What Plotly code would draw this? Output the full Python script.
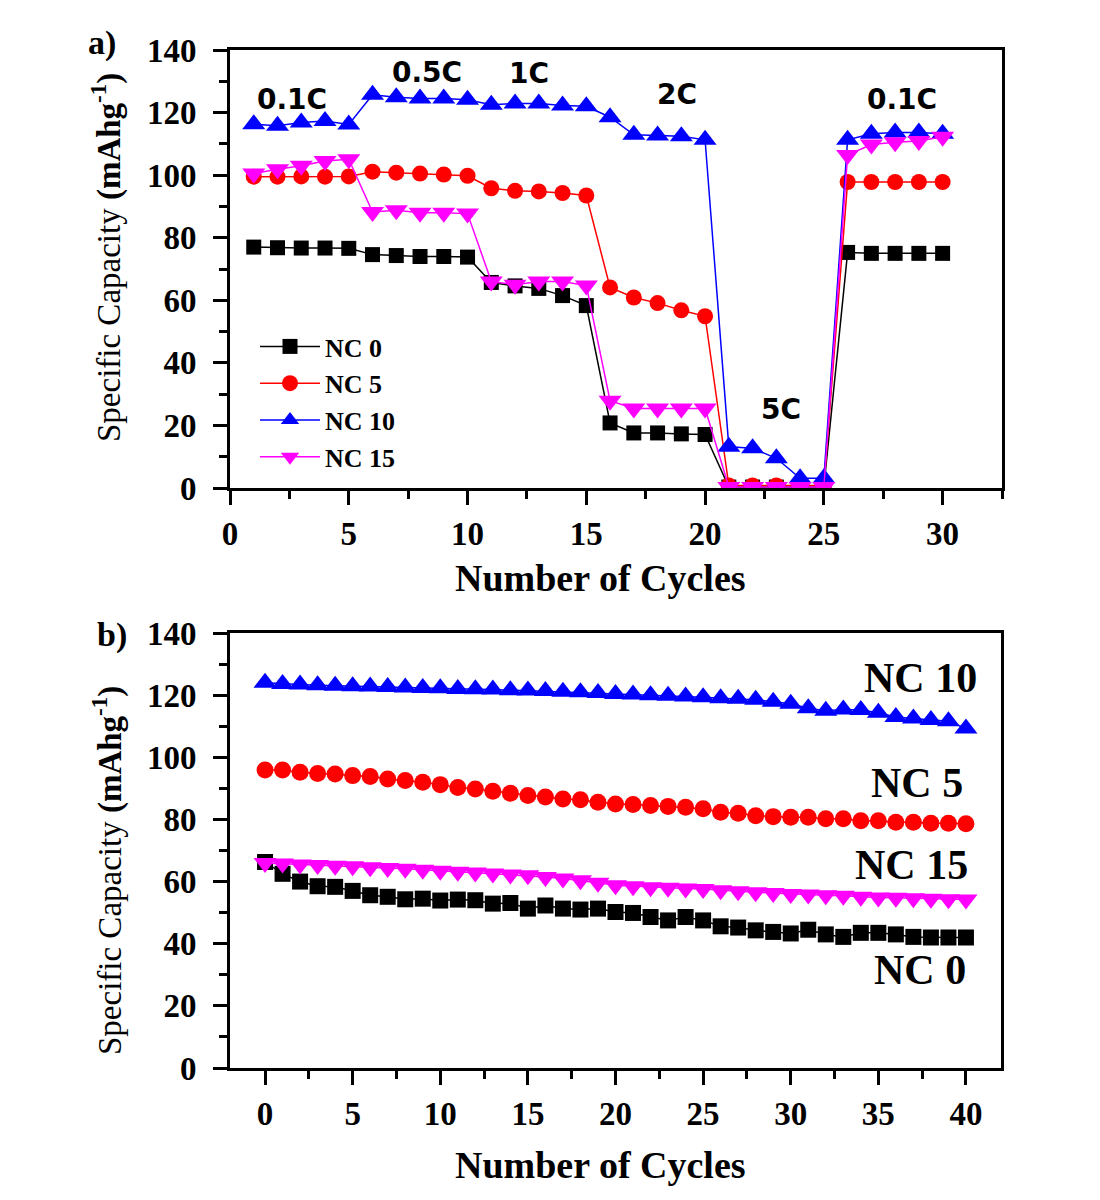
import plotly.graph_objects as go

# ---------------- data: panel a (rate capability) ----------------
cycles_a = list(range(1, 31))
nc0_a = [77.0, 76.8, 76.7, 76.7, 76.6, 74.6, 74.3, 74.0, 74.0, 73.8,
         65.7, 64.6, 63.8, 61.5, 58.3, 20.8, 17.6, 17.6, 17.3, 17.1,
         0.3, 0.3, 0.3, 0.3, 0.3, 75.3, 75.0, 75.0, 75.0, 75.0]
nc5_a = [99.5, 99.5, 99.6, 99.5, 99.6, 101.1, 100.8, 100.5, 100.2, 99.8,
         95.8, 95.0, 94.8, 94.3, 93.5, 64.1, 60.9, 59.1, 56.8, 54.9,
         0.8, 0.8, 0.8, 0.8, 0.8, 97.8, 97.8, 97.8, 97.8, 97.8]
nc10_a = [116.3, 115.8, 116.8, 117.3, 116.2, 125.7, 124.9, 124.5, 124.5, 124.1,
          122.5, 122.9, 122.9, 122.3, 122.0, 118.5, 112.9, 112.7, 112.4, 111.3,
          13.2, 12.7, 9.5, 3.1, 3.1, 111.3, 113.2, 113.6, 113.6, 113.2]
nc15_a = [100.5, 101.9, 103.0, 104.5, 105.1, 88.2, 88.8, 88.0, 88.0, 87.7,
          66.0, 65.0, 66.0, 66.0, 64.7, 27.9, 25.4, 25.4, 25.4, 25.4,
          0.3, 0.3, 0.3, 0.3, 0.3, 106.4, 109.8, 110.5, 110.9, 112.3]
rate_labels = ["0.1C", "0.5C", "1C", "2C", "5C", "0.1C"]
rate_x = [2.6, 8.3, 12.6, 18.8, 23.2, 28.3]
rate_y = [124.1, 132.7, 132.4, 125.7, 25.0, 124.1]

# ---------------- data: panel b (cycling) ----------------
cycles_b = list(range(0, 41))
nc0_b = [66.3, 62.5, 60.0, 58.5, 58.3, 57.0, 55.6, 55.1, 54.3, 54.5,
         53.9, 54.2, 54.0, 52.9, 53.1, 51.3, 52.3, 51.3, 51.0, 51.3,
         50.2, 49.9, 48.6, 47.5, 48.6, 47.5, 45.6, 45.2, 44.3, 43.8,
         43.3, 44.5, 43.0, 42.2, 43.5, 43.5, 43.0, 42.2, 42.0, 42.0, 42.0]
nc5_b = [95.9, 95.9, 95.2, 94.8, 94.6, 94.1, 93.8, 93.0, 92.5, 92.0,
         91.2, 90.3, 89.8, 89.1, 88.4, 87.7, 87.2, 86.6, 86.3, 85.5,
         85.0, 84.8, 84.5, 84.2, 83.9, 83.4, 82.3, 82.0, 81.2, 80.9,
         80.7, 80.7, 80.2, 80.2, 79.6, 79.6, 79.1, 79.1, 78.8, 78.8, 78.6]
nc10_b = [124.0, 123.6, 123.4, 123.2, 123.0, 122.9, 122.8, 122.6, 122.5, 122.3,
          122.2, 122.0, 121.9, 121.8, 121.6, 121.5, 121.3, 121.1, 120.9, 120.7,
          120.4, 120.2, 120.0, 119.8, 119.6, 119.3, 119.0, 118.8, 118.5, 117.9,
          117.2, 115.8, 115.0, 115.4, 115.2, 114.3, 113.0, 112.5, 112.0, 111.6, 109.3]
nc15_b = [66.0, 65.8, 65.5, 65.3, 65.1, 64.9, 64.6, 64.4, 64.1, 63.8,
          63.5, 63.2, 62.9, 62.6, 62.3, 62.0, 61.5, 61.0, 60.4, 59.6,
          58.8, 58.5, 58.2, 58.0, 57.8, 57.6, 57.2, 56.9, 56.6, 56.3,
          56.0, 55.8, 55.6, 55.4, 55.1, 54.9, 54.8, 54.6, 54.5, 54.3, 54.2]
end_labels = ["NC 10", "NC 5", "NC 15", "NC 0"]
end_x = [37.4, 37.2, 36.9, 37.4]
end_y = [125.6, 91.8, 65.2, 31.5]

names = ["NC 0", "NC 5", "NC 10", "NC 15"]
colors = ["#000000", "#ff0000", "#0000ff", "#ff00ff"]
symbols = ["square", "circle", "triangle-up", "triangle-down"]
sizes_a = [15, 16, 20, 20]
sizes_b = [16, 17, 20, 20]

SERIF = "Liberation Serif"
SANS = "DejaVu Sans"

fig = go.Figure()
for name, ya, col, sym, sz in zip(names, [nc0_a, nc5_a, nc10_a, nc15_a], colors, symbols, sizes_a):
    fig.add_trace(go.Scatter(x=cycles_a, y=ya, mode="lines+markers", name=name,
                             line=dict(color=col, width=1.5),
                             marker=dict(color=col, symbol=sym, size=sz, line=dict(width=0)),
                             xaxis="x", yaxis="y", showlegend=True))
for name, yb, col, sym, sz in zip(names, [nc0_b, nc5_b, nc10_b, nc15_b], colors, symbols, sizes_b):
    fig.add_trace(go.Scatter(x=cycles_b, y=yb, mode="lines+markers", name=name,
                             line=dict(color=col, width=1.5),
                             marker=dict(color=col, symbol=sym, size=sz, line=dict(width=0)),
                             xaxis="x2", yaxis="y2", showlegend=False))

W, H = 1100, 1200

def axis_common():
    return dict(showline=True, linecolor="black", linewidth=3, mirror=True,
                ticks="outside", ticklen=14, tickwidth=3, tickcolor="black",
                showgrid=False, zeroline=False,
                tickfont=dict(family=SERIF, size=33, color="black", weight="bold"))

xa = axis_common()
xa.update(domain=[230 / W, 1002 / W], range=[0, 32.5], tick0=0, dtick=5, anchor="y",
          ticklabelstandoff=0,
          minor=dict(dtick=2.5, ticks="outside", ticklen=8, tickwidth=3, tickcolor="black"))
ya = axis_common()
ya.update(domain=[1 - 488 / H, 1 - 50 / H], range=[0, 140], dtick=20, anchor="x",
          ticklabelstandoff=10,
          minor=dict(dtick=10, ticks="outside", ticklen=8, tickwidth=3, tickcolor="black"))
xb = axis_common()
xb.update(domain=[230 / W, 1001 / W], range=[-2, 42], tick0=0, dtick=5, anchor="y2",
          ticklabelstandoff=0,
          minor=dict(dtick=2.5, ticks="outside", ticklen=8, tickwidth=3, tickcolor="black"))
yb = axis_common()
yb.update(domain=[1 - 1068 / H, 1 - 633 / H], range=[0, 140], dtick=20, anchor="x2",
          ticklabelstandoff=10,
          minor=dict(dtick=10, ticks="outside", ticklen=8, tickwidth=3, tickcolor="black"))

annotations = []
for t, x, y in zip(rate_labels, rate_x, rate_y):
    annotations.append(dict(x=x, y=y, xref="x", yref="y", text="<b>%s</b>" % t, showarrow=False,
                            font=dict(family=SANS, size=28, color="black")))
for t, x, y in zip(end_labels, end_x, end_y):
    annotations.append(dict(x=x, y=y, xref="x2", yref="y2", text="<b>%s</b>" % t, showarrow=False,
                            font=dict(family=SERIF, size=42, color="black")))

ytitle = "Specific Capacity <b>(mAhg<sup>-1</sup>)</b>"
for yc in [1 - 258 / H, 1 - 871 / H]:
    annotations.append(dict(x=107 / W, y=yc, xref="paper", yref="paper", text=ytitle,
                            textangle=-90, showarrow=False, xanchor="center", yanchor="middle",
                            font=dict(family=SERIF, size=33, color="black")))
for yc in [1 - 578 / H, 1 - 1165 / H]:
    annotations.append(dict(x=600 / W, y=yc, xref="paper", yref="paper",
                            text="<b>Number of Cycles</b>", showarrow=False,
                            xanchor="center", yanchor="middle",
                            font=dict(family=SERIF, size=38, color="black")))
annotations.append(dict(x=102 / W, y=1 - 43 / H, xref="paper", yref="paper", text="<b>a)</b>",
                        showarrow=False, xanchor="center", yanchor="middle",
                        font=dict(family=SERIF, size=34, color="black")))
annotations.append(dict(x=112 / W, y=1 - 635 / H, xref="paper", yref="paper", text="<b>b)</b>",
                        showarrow=False, xanchor="center", yanchor="middle",
                        font=dict(family=SERIF, size=34, color="black")))

fig.update_layout(
    width=W, height=H, margin=dict(l=0, r=0, t=0, b=0, autoexpand=False),
    paper_bgcolor="white", plot_bgcolor="white",
    xaxis=xa, yaxis=ya, xaxis2=xb, yaxis2=yb,
    annotations=annotations,
    legend=dict(x=255 / W, y=1 - 323 / H, xanchor="left", yanchor="top",
                bgcolor="rgba(0,0,0,0)", borderwidth=0, itemwidth=60,
                tracegroupgap=0,
                font=dict(family=SERIF, size=26, color="black", weight="bold")),
)

fig.write_html("out.html")
